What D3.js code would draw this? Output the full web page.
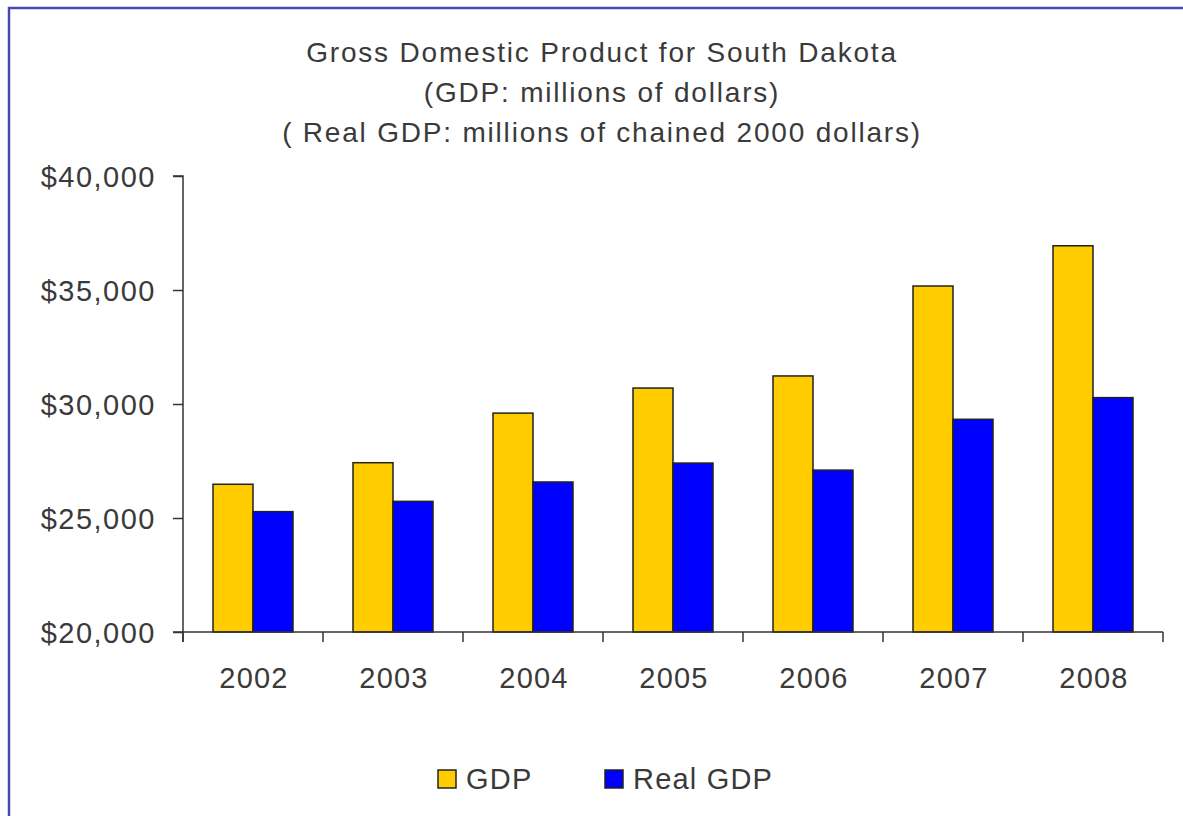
<!DOCTYPE html>
<html>
<head>
<meta charset="utf-8">
<script src="https://cdn.jsdelivr.net/npm/d3@7"></script>
<style>
  html, body { margin: 0; padding: 0; background: #fff; }
  svg { display: block; }
  text { font-family: "Liberation Sans", Arial, sans-serif; fill: #3a3a3a; }
</style>
</head>
<body>
<svg id="chart" width="1183" height="816"></svg>
<script>
const years = ["2002", "2003", "2004", "2005", "2006", "2007", "2008"];
const gdp = [26480, 27425, 29600, 30700, 31230, 35175, 36940];
const realGdp = [25280, 25730, 26580, 27410, 27100, 29330, 30280];
const seriesNames = ["GDP", "Real GDP"];
const seriesColors = ["#FFCC00", "#0000FF"];
const yTicks = [20000, 25000, 30000, 35000, 40000];
const titleLines = [
  "Gross Domestic Product for South Dakota",
  "(GDP: millions of dollars)",
  "( Real GDP: millions of chained 2000 dollars)"
];

const svg = d3.select("#chart");
const W = 1183, H = 816;
const plot = { left: 183, right: 1163, top: 176, bottom: 632 };

// outer border
svg.append("rect")
  .attr("x", 9).attr("y", 8)
  .attr("width", W + 20).attr("height", H + 20)
  .attr("fill", "none").attr("stroke", "#4848b0").attr("stroke-width", 2.5);

// title
svg.append("g").selectAll("text").data(titleLines).join("text")
  .attr("x", 602).attr("y", (d, i) => 62 + i * 40)
  .attr("text-anchor", "middle")
  .style("font-size", "28px")
  .style("letter-spacing", "1.8px")
  .text(d => d);

const x0 = d3.scaleBand().domain(years).range([plot.left, plot.right]).paddingInner(0).paddingOuter(0);
const x1 = d3.scaleBand().domain(seriesNames).range([0, 80]);
const y = d3.scaleLinear().domain([20000, 40000]).range([plot.bottom, plot.top]);

// bars
const data = years.map((yr, i) => ({ year: yr, vals: [gdp[i], realGdp[i]] }));
const groups = svg.append("g").selectAll("g").data(data).join("g")
  .attr("transform", d => `translate(${x0(d.year) + (x0.bandwidth() - 80) / 2},0)`);
groups.selectAll("rect").data(d => d.vals.map((v, j) => ({ v, name: seriesNames[j], c: seriesColors[j] })))
  .join("rect")
  .attr("x", d => x1(d.name))
  .attr("y", d => y(d.v))
  .attr("width", x1.bandwidth())
  .attr("height", d => y(20000) - y(d.v))
  .attr("fill", d => d.c)
  .attr("stroke", "#222")
  .attr("stroke-width", 1.5);

// y axis
const yAxis = d3.axisLeft(y).tickValues(yTicks).tickSize(10).tickPadding(17)
  .tickFormat(d => "$" + d3.format(",")(d));
const yg = svg.append("g").attr("transform", `translate(${plot.left},0)`).call(yAxis);
yg.select(".domain").attr("d", `M-10,${plot.top}H0V${plot.bottom + 10}`).attr("stroke", "#333").attr("stroke-width", 1.5);
yg.selectAll(".tick line").attr("stroke", "#333").attr("stroke-width", 1.5);
yg.selectAll(".tick text").style("font-size", "29px").style("letter-spacing", "1.5px")
  .style("font-family", "Liberation Sans, Arial, sans-serif").attr("fill", "#3a3a3a").attr("dy", "0.35em");

// x axis
const xg = svg.append("g").attr("transform", `translate(0,${plot.bottom})`);
xg.append("line").attr("x1", plot.left - 10).attr("x2", plot.right).attr("y1", 0).attr("y2", 0)
  .attr("stroke", "#333").attr("stroke-width", 1.5);
const boundaries = years.map(d => x0(d)).concat([plot.right]);
xg.selectAll("line.tk").data(boundaries).join("line").attr("class", "tk")
  .attr("x1", d => d).attr("x2", d => d).attr("y1", 0).attr("y2", 10)
  .attr("stroke", "#333").attr("stroke-width", 1.5);
xg.selectAll("text").data(years).join("text")
  .attr("x", d => x0(d) + x0.bandwidth() / 2 + 1)
  .attr("y", 56)
  .attr("text-anchor", "middle")
  .style("font-size", "29px")
  .style("letter-spacing", "1.2px")
  .text(d => d);

// legend
const legendX = [438, 605];
const lg = svg.append("g").selectAll("g").data(seriesNames).join("g")
  .attr("transform", (d, i) => `translate(${legendX[i]},770)`);
lg.append("rect").attr("width", 18).attr("height", 18)
  .attr("fill", (d, i) => seriesColors[i]).attr("stroke", "#222").attr("stroke-width", 1.5);
lg.append("text").attr("x", 28).attr("y", 19).style("font-size", "29px").style("letter-spacing", "1.2px").text(d => d);
</script>
</body>
</html>
